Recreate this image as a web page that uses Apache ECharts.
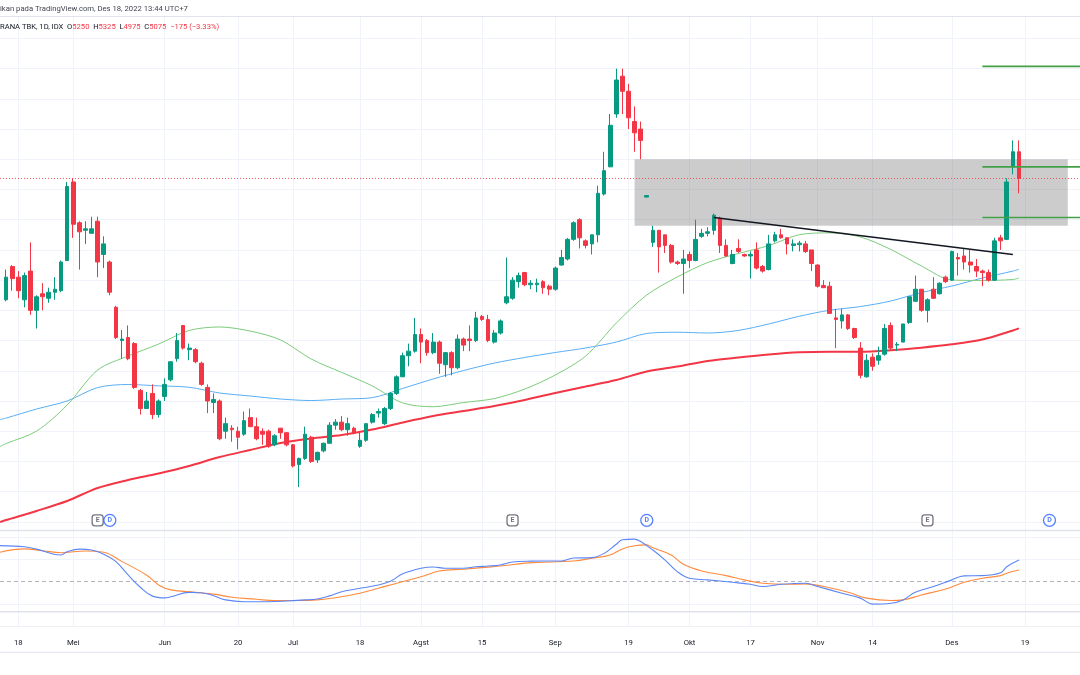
<!DOCTYPE html>
<html>
<head>
<meta charset="utf-8">
<script src="https://cdn.jsdelivr.net/npm/echarts@6/dist/echarts.min.js"></script>
<style>
html,body{margin:0;padding:0;background:#ffffff;}
#c{width:1080px;height:675px;}
</style>
</head>
<body>
<div id="c"></div>
<script>
// ---------- categories ----------
const leadDates = ['12 Apr'];
const tradingDates = [
'13 Apr','14 Apr','18 Apr','19 Apr','20 Apr','21 Apr','22 Apr','25 Apr','26 Apr','27 Apr','28 Apr',
'9 Mei','10 Mei','11 Mei','12 Mei','13 Mei','17 Mei','18 Mei','19 Mei','20 Mei','23 Mei','24 Mei','25 Mei','27 Mei','30 Mei','31 Mei',
'2 Jun','3 Jun','6 Jun','7 Jun','8 Jun','9 Jun','10 Jun','13 Jun','14 Jun','15 Jun','16 Jun','17 Jun','20 Jun','21 Jun','22 Jun','23 Jun','24 Jun','27 Jun','28 Jun','29 Jun','30 Jun',
'1 Jul','4 Jul','5 Jul','6 Jul','7 Jul','8 Jul','11 Jul','12 Jul','13 Jul','14 Jul','15 Jul','18 Jul','19 Jul','20 Jul','21 Jul','22 Jul','25 Jul','26 Jul','27 Jul','28 Jul','29 Jul',
'1 Agst','2 Agst','3 Agst','4 Agst','5 Agst','8 Agst','9 Agst','10 Agst','11 Agst','12 Agst','15 Agst','16 Agst','18 Agst','19 Agst','22 Agst','23 Agst','24 Agst','25 Agst','26 Agst','29 Agst','30 Agst','31 Agst',
'1 Sep','2 Sep','5 Sep','6 Sep','7 Sep','8 Sep','9 Sep','12 Sep','13 Sep','14 Sep','15 Sep','16 Sep','19 Sep','20 Sep','21 Sep','22 Sep','23 Sep','26 Sep','27 Sep','28 Sep','29 Sep','30 Sep',
'3 Okt','4 Okt','5 Okt','6 Okt','7 Okt','10 Okt','11 Okt','12 Okt','13 Okt','14 Okt','17 Okt','18 Okt','19 Okt','20 Okt','21 Okt','24 Okt','25 Okt','26 Okt','27 Okt','28 Okt','31 Okt',
'1 Nov','2 Nov','3 Nov','4 Nov','7 Nov','8 Nov','9 Nov','10 Nov','11 Nov','14 Nov','15 Nov','16 Nov','17 Nov','18 Nov','21 Nov','22 Nov','23 Nov','24 Nov','25 Nov','28 Nov','29 Nov','30 Nov',
'1 Des','2 Des','5 Des','6 Des','7 Des','8 Des','9 Des','12 Des','13 Des','14 Des','15 Des','16 Des'
];
const futureDates = ['19 Des','20 Des','21 Des','22 Des','23 Des','27 Des','28 Des','29 Des','30 Des','2 Jan'];

const axisLabelMap = {
  '18 Apr':'18','9 Mei':'Mei','2 Jun':'Jun','20 Jun':'20','1 Jul':'Jul','18 Jul':'18',
  '1 Agst':'Agst','15 Agst':'15','1 Sep':'Sep','19 Sep':'19','3 Okt':'Okt','17 Okt':'17',
  '1 Nov':'Nov','14 Nov':'14','1 Des':'Des','19 Des':'19'
};

// ---------- OHLC ----------
const opens = [4270,4490,4420,4270,4460,4200,4310,4280,4320,4330,4530,
5050,4780,4730,4710,4790,4570,4520,4220,4000,4020,3980,3670,3550,3650,3510,
3630,3740,3880,4100,3940,3940,3850,3690,3590,3600,3400,3420,3400,3380,3490,3430,3400,3400,3310,3420,3390,
3310,3180,3220,3360,3210,3270,3320,3440,3460,3410,3420,3300,3340,3460,3520,3450,3550,3650,3760,3900,3930,
4040,4000,3920,3990,3840,3920,3820,4010,4010,4000,4160,4140,3990,4050,4250,4280,4390,4450,4370,4370,4390,4360,
4340,4500,4540,4670,4800,4660,4640,4700,4970,5150,5500,5750,5650,5450,5400,4950,4650,4730,4700,4630,4520,4510,
4570,4530,4690,4710,4730,4810,4630,4510,4610,4570,4560,4600,4490,4470,4660,4700,4680,4630,4635,4640,4600,
4500,4365,4360,4150,4130,4170,4080,3950,3760,3890,3870,3910,4100,3970,3990,4120,4260,4340,4200,4340,4310,4420,
4400,4550,4560,4520,4490,4460,4450,4400,4680,4670,5150,5250];
const highs = [4470,4500,4460,4450,4650,4300,4380,4350,4420,4530,5050,
5075,4790,4790,4820,4820,4690,4530,4230,4070,4100,3990,3680,3660,3710,3610,
3750,3860,4050,4100,3980,3950,3860,3710,3650,3610,3490,3440,3430,3530,3550,3490,3420,3410,3380,3420,3395,
3315,3225,3430,3370,3265,3325,3460,3480,3500,3490,3430,3395,3450,3520,3550,3560,3660,3770,3920,3980,4150,
4080,4010,4050,4000,3925,3930,4040,4020,4100,4190,4170,4170,4070,4140,4550,4420,4450,4455,4400,4410,4400,4370,
4490,4600,4680,4790,4810,4670,4700,5025,5250,5500,5800,5800,5700,5550,5450,4960,4760,4730,4700,4640,4530,4600,
4590,4800,4740,4750,4840,4820,4670,4600,4670,4575,4590,4650,4500,4700,4720,4740,4685,4670,4660,4660,4600,
4505,4400,4390,4210,4210,4175,4085,3990,3910,3915,3960,4110,4120,3990,4110,4290,4430,4340,4280,4420,4385,4430,
4595,4580,4610,4600,4540,4470,4470,4680,4700,5075,5325,5325];
const lows = [4260,4330,4280,4220,4170,4080,4200,4250,4270,4320,4530,
4680,4470,4640,4710,4420,4480,4300,4010,3880,3870,3680,3510,3550,3480,3490,
3600,3730,3860,3940,3870,3850,3700,3520,3520,3340,3350,3330,3280,3370,3430,3340,3310,3290,3300,3350,3300,
3160,3030,3210,3190,3190,3260,3320,3410,3400,3370,3380,3290,3330,3450,3490,3440,3540,3640,3760,3830,3920,
3850,3900,3910,3780,3760,3770,3810,3930,3930,3990,4130,3990,3980,4040,4240,4270,4350,4360,4340,4320,4310,4300,
4330,4495,4530,4660,4610,4610,4570,4650,4960,5150,5475,5500,5400,5250,5200,4950,4620,4450,4580,4510,4500,4310,
4480,4525,4680,4690,4700,4580,4555,4505,4580,4555,4410,4470,4450,4465,4650,4675,4570,4590,4590,4580,4460,
4350,4350,4180,3950,4080,4070,4010,3750,3755,3800,3840,3900,3940,3930,3990,4110,4255,4190,4120,4275,4305,4380,
4395,4430,4470,4450,4420,4360,4390,4395,4600,4665,5100,4975];
const closes = [4420,4410,4330,4430,4200,4290,4290,4320,4340,4520,5020,
4770,4720,4740,4740,4520,4640,4320,4020,4010,3880,3690,3550,3600,3510,3600,
3710,3860,4000,3950,3950,3860,3710,3600,3610,3350,3450,3410,3360,3470,3430,3350,3380,3300,3370,3390,3310,
3170,3220,3380,3200,3260,3320,3440,3460,3410,3450,3390,3340,3450,3510,3530,3550,3650,3760,3900,3930,4040,
3990,3920,3990,3850,3920,3820,4010,3970,4000,4150,4140,4000,4050,4130,4290,4400,4430,4370,4380,4380,4350,4340,
4480,4550,4670,4780,4680,4630,4700,4975,5125,5425,5725,5650,5475,5375,5325,4960,4730,4620,4630,4520,4510,4540,
4530,4670,4710,4720,4830,4630,4560,4570,4590,4560,4570,4480,4460,4640,4700,4680,4640,4640,4645,4590,4510,
4360,4350,4180,4140,4170,4080,4020,3770,3870,3830,3900,4080,3950,3975,4110,4290,4340,4200,4270,4280,4380,4390,
4590,4540,4520,4500,4460,4450,4400,4660,4660,5050,5250,5075];

// ---------- moving averages (sampled at category positions) ----------
const maK = [0,1,6,11,16,21,26,31,36,41,46,51,56,61,66,71,76,81,86,91,96,101,106,111,116,121,126,131,136,141,146,151,156,161,166,167];
const maFast = [3299,3318,3401,3573,3805,3898,3977,4067,4090,4063,4004,3878,3789,3700,3587,3562,3590,3616,3679,3772,3898,4116,4302,4421,4517,4576,4629,4701,4713,4686,4603,4494,4401,4398,4404,4414];
const maMid  = [3477,3487,3547,3600,3689,3709,3700,3691,3653,3633,3613,3603,3613,3622,3683,3746,3802,3851,3888,3921,3951,3990,4047,4055,4050,4067,4110,4161,4201,4225,4262,4318,4361,4414,4460,4472];
const maSlow = [2799,2812,2872,2938,3024,3077,3120,3170,3229,3276,3322,3352,3375,3411,3458,3501,3534,3567,3607,3653,3696,3739,3795,3828,3865,3888,3908,3922,3926,3926,3936,3953,3975,4007,4067,4081];

// ---------- oscillator ----------
const macdK = [0,4,6,9,10,11,13,15,17,19,21,23,25,27,28,31,33,35,37,40,44,47,50,52,54,56,59,62,64,66,69,71,73,76,78,80,82,84,87,92,94,97,99,101,102,104,105,107,109,111,113,116,120,123,125,128,132,134,138,141,143,146,148,150,153,156,158,161,164,165,167];
const macdVals = [162,157,146,122,120,134,146,142,123,90,30,-25,-65,-73,-68,-48,-50,-63,-82,-90,-90,-87,-82,-78,-64,-45,-30,-15,2,35,60,66,60,60,67,70,75,88,92,93,106,108,127,168,188,191,180,142,97,45,15,8,-3,-12,-22,-12,-7,-22,-52,-74,-101,-97,-82,-48,-22,8,26,27,40,67,97];
const signalK = [0,4,7,10,14,17,20,24,26,28,32,35,38,42,45,49,52,55,59,62,65,69,72,76,79,82,86,88,94,97,100,102,104,106,107,110,112,115,119,122,125,129,132,135,139,142,146,148,151,155,158,161,164,165,167];
const signalVals = [132,147,139,130,138,132,90,30,-15,-37,-48,-56,-70,-79,-85,-85,-82,-72,-52,-30,-7,22,48,56,63,70,83,86,93,105,120,147,161,165,152,120,78,48,27,8,-7,-12,-10,-22,-48,-74,-85,-82,-60,-33,-3,15,27,38,52];

// ---------- drawings / events ----------
const zoneK = [104, 175];          // gray zone start/end (category positions)
const zonePrices = [5200, 4760];   // gray zone top/bottom
const trendK = [117, 166];
const trendPrices = [4815, 4570];
const levelStartK = 161;
const levelPrices = [5815, 5150, 4815];
const eventK = [16, 18, 84, 106, 152, 172];
const eventTypes = ['E', 'D', 'E', 'D', 'E', 'D'];
const priceGrid = [2800,3000,3200,3400,3600,3800,4000,4200,4400,4600,4800,5000,5200,5400,5600,5800,6000];
const oscGrid = [-100, 100, 200];

// ---------- build ----------
const cats = leadDates.concat(tradingDates, futureDates);
const lastK = cats.length - 1;
const off = leadDates.length;
const candleData = tradingDates.map((d, i) => [i + off, opens[i], closes[i], lows[i], highs[i]]);
const pair = (ks, vs) => ks.map((k, i) => [k, vs[i]]);
const n = closes.length;
const lastClose = closes[n - 1], prevClose = closes[n - 2];
const chg = lastClose - prevClose;
const chgPct = (chg / prevClose * 100).toFixed(2);

const priceMin = 2746, priceMax = 6142;
const oscMin = -135, oscMax = 232;
const GL = -1.4, GW = 1085;
const FONT = 'Roboto, "Noto Sans", sans-serif';
const gridColor = '#f0f3fa';
const isLab = (i, v) => axisLabelMap[v] !== undefined;

function catAxis(gi, showLabels) {
  return {
    type: 'category', gridIndex: gi, data: cats, boundaryGap: false,
    axisLine: { show: showLabels, lineStyle: { color: '#eceff4' } },
    axisTick: { show: false },
    axisLabel: showLabels ? {
      show: true, interval: isLab, formatter: v => axisLabelMap[v] || '',
      color: '#131722', fontSize: 7.7, fontFamily: FONT, margin: 12
    } : { show: false },
    splitLine: { show: true, interval: isLab, lineStyle: { color: gridColor, width: 1 } }
  };
}
function valAxis(gi) {
  return { type: 'value', gridIndex: gi, min: 0, max: lastK, show: false };
}

const eventData = eventK.map((k, i) => {
  const isE = eventTypes[i] === 'E';
  const col = isE ? '#50535e' : '#2962ff';
  return {
    value: [k, priceMin + 64],
    symbol: isE ? 'roundRect' : 'circle',
    symbolSize: isE ? 11 : 12,
    itemStyle: { color: '#ffffff', borderColor: col, borderWidth: 1.3 },
    label: { show: true, position: 'inside', formatter: eventTypes[i], color: col, fontSize: 7, fontWeight: 'bold', fontFamily: FONT }
  };
});

const series = [
  { // price grid lines
    type: 'line', xAxisIndex: 1, yAxisIndex: 0, data: [], z: 0, silent: true,
    markLine: { silent: true, z: 0, symbol: 'none', label: { show: false },
      lineStyle: { color: gridColor, width: 1, type: 'solid' },
      data: priceGrid.map(p => ({ yAxis: p })) }
  },
  { // gray zone
    type: 'line', xAxisIndex: 1, yAxisIndex: 0, data: [], z: 2, silent: true,
    markArea: { silent: true, z: 2, itemStyle: { color: 'rgba(120,120,120,0.38)' },
      data: [[{ coord: [zoneK[0], zonePrices[0]] }, { coord: [zoneK[1], zonePrices[1]] }]] }
  },
  { type: 'line', name: 'maSlow', xAxisIndex: 1, yAxisIndex: 0, data: pair(maK, maSlow), smooth: 0.3,
    showSymbol: false, lineStyle: { color: '#f23645', width: 2 }, z: 3, silent: true },
  { type: 'line', name: 'maMid', xAxisIndex: 1, yAxisIndex: 0, data: pair(maK, maMid), smooth: 0.3,
    showSymbol: false, lineStyle: { color: '#5aaef5', width: 1 }, z: 3, silent: true },
  { type: 'line', name: 'maFast', xAxisIndex: 1, yAxisIndex: 0, data: pair(maK, maFast), smooth: 0.3,
    showSymbol: false, lineStyle: { color: '#7ccb7c', width: 1 }, z: 3, silent: true },
  { type: 'candlestick', xAxisIndex: 0, yAxisIndex: 0, data: candleData,
    encode: { x: 0, y: [1, 2, 3, 4] }, barWidth: 4.2, z: 4, silent: true,
    itemStyle: { color: '#089981', color0: '#f23645', borderColor: '#089981', borderColor0: '#f23645', borderWidth: 1 },
    markLine: { silent: true, symbol: 'none', label: { show: false },
      lineStyle: { color: '#f23645', width: 1, type: [1, 2], opacity: 0.8 },
      data: [{ yAxis: lastClose }] }
  },
  { type: 'line', name: 'trend', xAxisIndex: 1, yAxisIndex: 0, data: pair(trendK, trendPrices),
    showSymbol: false, lineStyle: { color: '#131722', width: 1.6 }, z: 5, silent: true },
  ...levelPrices.map(p => ({ type: 'line', xAxisIndex: 1, yAxisIndex: 0, data: [[levelStartK, p], [lastK, p]],
    showSymbol: false, lineStyle: { color: '#43a047', width: 1.6 }, z: 5, silent: true })),
  { type: 'scatter', xAxisIndex: 1, yAxisIndex: 0, data: eventData, z: 6, silent: true },
  { // oscillator grid lines
    type: 'line', xAxisIndex: 3, yAxisIndex: 1, data: [], z: 0, silent: true,
    markLine: { silent: true, z: 1, symbol: 'none', label: { show: false },
      data: oscGrid.map(v => ({ yAxis: v, lineStyle: { color: gridColor, width: 1, type: 'solid' } }))
        .concat([{ yAxis: 0, lineStyle: { color: '#b2b5be', width: 1, type: [4, 3] } }]) }
  },
  { type: 'line', name: 'signal', xAxisIndex: 3, yAxisIndex: 1, data: pair(signalK, signalVals), smooth: 0.4,
    showSymbol: false, lineStyle: { color: '#ff8a3d', width: 1.1 }, z: 3, silent: true },
  { type: 'line', name: 'macd', xAxisIndex: 3, yAxisIndex: 1, data: pair(macdK, macdVals), smooth: 0.4,
    showSymbol: false, lineStyle: { color: '#5b86f7', width: 1.1 }, z: 4, silent: true }
];

const hline = (y, color, w) => ({ type: 'line', shape: { x1: 0, y1: y, x2: 1080, y2: y },
  style: { stroke: color, lineWidth: w }, silent: true, z: 10 });

const option = {
  animation: false,
  backgroundColor: '#ffffff',
  grid: [
    { left: GL, width: GW, top: 17, height: 513 },
    { left: GL, width: GW, top: 530, height: 81.7 },
    { left: GL, width: GW, top: 611.7, height: 15 }
  ],
  xAxis: [catAxis(0, false), valAxis(0), catAxis(1, false), valAxis(1), catAxis(2, true)],
  yAxis: [
    { type: 'value', gridIndex: 0, min: priceMin, max: priceMax, show: false, splitLine: { show: false } },
    { type: 'value', gridIndex: 1, min: oscMin, max: oscMax, show: false, splitLine: { show: false } },
    { type: 'value', gridIndex: 2, min: 0, max: 1, show: false, splitLine: { show: false } }
  ],
  series: series,
  graphic: [
    hline(16.5, '#e0e3eb', 1),
    hline(530.5, '#e0e3eb', 1.5),
    hline(611.7, '#e0e3eb', 1.5),
    hline(652.3, '#e0e3eb', 1),
    { type: 'text', x: 0, y: 9, silent: true, z: 10,
      style: { text: 'ikan pada TradingView.com, Des 18, 2022 13:44 UTC+7', fill: '#434651',
        fontSize: 7.7, fontFamily: FONT, verticalAlign: 'middle' } },
    { type: 'text', x: 0, y: 27, silent: true, z: 10,
      style: {
        text: '{n|RANA TBK, 1D, IDX}  {n|O}{v|' + opens[n-1] + '}  {n|H}{v|' + highs[n-1] + '}  {n|L}{v|' + lows[n-1] +
              '}  {n|C}{v|' + lastClose + '}  {v|' + (chg < 0 ? '\u2212' : '+') + Math.abs(chg) + ' (' + (chg < 0 ? '\u2212' : '+') + Math.abs(chgPct).toFixed(2) + '%)}',
        fontSize: 7.6, fontFamily: FONT, verticalAlign: 'middle', fill: '#131722',
        rich: {
          n: { fill: '#131722', fontSize: 7.6, fontFamily: FONT },
          v: { fill: '#f23645', fontSize: 7.6, fontFamily: FONT }
        }
      } }
  ]
};

const chart = echarts.init(document.getElementById('c'), null, { renderer: 'canvas' });
chart.setOption(option);
</script>
</body>
</html>
